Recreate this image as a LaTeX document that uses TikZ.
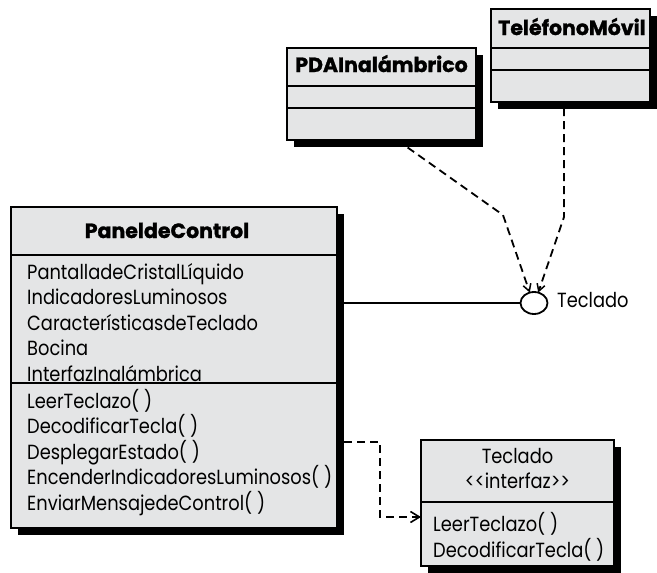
\documentclass[tikz,border=0pt]{standalone}
\usepackage{fontspec}
\setmainfont{Poppins}[FakeStretch=0.87]
\newfontfamily\hfont{Poppins}[BoldFeatures={FakeBold=1.3}]
\usetikzlibrary{arrows.meta,shadows,shapes.geometric}
\definecolor{boxgray}{RGB}{228,229,230}
\begin{document}
\begin{tikzpicture}[x=1pt,y=-1pt,
  classbox/.style={draw=black, line width=1.8pt, fill=boxgray, inner sep=0pt, outer sep=0pt, anchor=north west,
    drop shadow={shadow xshift=6.5pt, shadow yshift=-6.5pt, fill=black, opacity=1}},
  sep/.style={line width=1.8pt},
  txt/.style={inner sep=0pt, anchor=base west, font=\fontsize{20.5}{25}\selectfont},
  hdr/.style={inner sep=0pt, anchor=base, font=\fontsize{20.5}{25}\hfont\bfseries},
  ctr/.style={inner sep=0pt, anchor=base, font=\fontsize{20.5}{25}\selectfont},
  dep/.style={line width=1.8pt, dash pattern=on 8pt off 5pt},
  tipA/.style={-{Straight Barb[length=7pt,width=8pt,line width=1.5pt]}},
  tipB/.style={-{Straight Barb[length=9pt,width=11pt,line width=1.6pt]}}
]
\useasboundingbox (0,0) rectangle (657,573);

% PDA box
\node[classbox, minimum width=189pt, minimum height=92pt] (pda) at (287,48) {};
\draw[sep] (287,86) -- (476,86);
\draw[sep] (287,108) -- (476,108);
\node[hdr] (pdah) at (381.5,72) {PDAInalámbrico};

% Telefono box
\node[classbox, minimum width=159pt, minimum height=93pt] (phone) at (491,9) {};
\draw[sep] (491,48) -- (650,48);
\draw[sep] (491,70) -- (650,70);
\node[hdr] (phoneh) at (572,35) {TeléfonoMóvil};

% Panel de control
\node[classbox, minimum width=326pt, minimum height=321pt] (panel) at (11,207) {};
\draw[sep] (11,255) -- (337,255);
\draw[sep] (11,383) -- (337,383);
\node[hdr] (panelh) at (167,238) {PaneldeControl};
\node[txt] (a1) at (27,279) {PantalladeCristalLíquido};
\node[txt] (a2) at (27,304.5) {IndicadoresLuminosos};
\node[txt] (a3) at (27,330) {CaracterísticasdeTeclado};
\node[txt] (a4) at (27,355.5) {Bocina};
\node[txt] (a5) at (27,381) {InterfazInalámbrica};
\node[txt] (m1) at (27,408) {LeerTeclazo( )};
\node[txt] (m2) at (27,433.5) {DecodificarTecla( )};
\node[txt] (m3) at (27,459) {DesplegarEstado( )};
\node[txt] (m4) at (27,484.5) {EncenderIndicadoresLuminosos( )};
\node[txt] (m5) at (27,510) {EnviarMensajedeControl( )};

% Teclado interface box
\node[classbox, minimum width=193pt, minimum height=126pt] (tec) at (421,440) {};
\draw[sep] (421,502) -- (614,502);
\node[ctr] (tech) at (517.5,463) {Teclado};
\node[ctr] (tecs) at (517.5,488.5) {<{}<interfaz>{}>};
\node[txt] (t1) at (433,531) {LeerTeclazo( )};
\node[txt] (t2) at (433,557) {DecodificarTecla( )};

% lollipop interface
\node[draw, ellipse, line width=1.8pt, minimum width=27pt, minimum height=22pt, inner sep=0pt, outer sep=0pt] (iface) at (534,303) {};
\node[txt] (ifl) at (557,307) {Teclado};

\draw[line width=1.8pt] (panel.east |- iface) -- (iface.west);
\coordinate (b1) at (503,215);
\coordinate (b2) at (564,217);
\draw[dep, tipA] ([xshift=15.5pt]pda.south) -- (b1) -- (iface.112);
\draw[dep, tipA] ([xshift=-6.5pt,yshift=-6pt]phone.south) -- (b2) -- (iface.68);

\coordinate (c1) at (380,442);
\coordinate (c2) at (380,517);
\draw[dep, tipB] ([xshift=7pt]panel.east |- c1) -- (c1) -- (c2) -- (tec.west |- c2);
\end{tikzpicture}
\end{document}
